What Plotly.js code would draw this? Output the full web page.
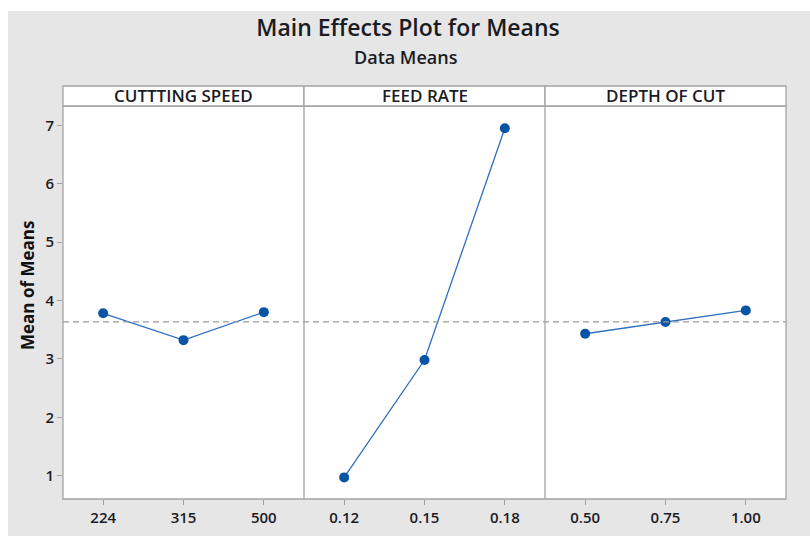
<!DOCTYPE html>
<html>
<head>
<meta charset="utf-8">
<script src="https://cdn.plot.ly/plotly-3.0.1.min.js"></script>
<style>html,body{margin:0;padding:0;background:#fff;}#chart{width:810px;height:536px;}</style>
</head>
<body>
<div id="chart"></div>
<script>
// ---- data ----
const factorNames = ['CUTTTING SPEED', 'FEED RATE', 'DEPTH OF CUT'];
const speedLevels = ['224', '315', '500'];
const speedMeans = [3.78, 3.32, 3.80];
const feedLevels = ['0.12', '0.15', '0.18'];
const feedMeans = [0.97, 2.98, 6.95];
const depthLevels = ['0.50', '0.75', '1.00'];
const depthMeans = [3.43, 3.63, 3.83];
const yTicks = [1, 2, 3, 4, 5, 6, 7];

// ---- geometry ----
const W = 810, H = 536;
const L = 63, R = 786, T = 106, B = 499;
const pw = R - L, ph = B - T;
const px = v => (v - L) / pw;
const py = v => (B - v) / ph;

const levels = [speedLevels, feedLevels, depthLevels];
const means = [speedMeans, feedMeans, depthMeans];
const allMeans = [].concat(speedMeans, feedMeans, depthMeans);
const grandMean = allMeans.reduce((a, b) => a + b, 0) / allMeans.length;

const font = '"Open Sans", "Noto Sans", sans-serif';
const grey = '#a3a3a3';
const dark = '#1b1b24';

const traces = levels.map((lv, i) => ({
  type: 'scatter', mode: 'lines+markers',
  x: lv, y: means[i],
  xaxis: i === 0 ? 'x' : 'x' + (i + 1), yaxis: 'y',
  line: {color: '#2f6fbf', width: 1.3},
  marker: {color: '#0a54a5', size: 10, symbol: 'circle'},
  hoverinfo: 'x+y', showlegend: false
}));

const xBase = {
  type: 'category', range: [-0.5, 2.5], showgrid: false, zeroline: false, showline: false,
  ticks: 'outside', ticklen: 5, tickcolor: grey, tickwidth: 1,
  tickfont: {family: font, size: 15, color: dark, weight: 600}, anchor: 'y', fixedrange: true
};

const shapes = [
  {type: 'rect', xref: 'paper', yref: 'paper', layer: 'below',
   x0: px(8), x1: px(812), y0: py(538), y1: py(11), fillcolor: '#e6e6e6', line: {width: 0}},
  {type: 'rect', xref: 'paper', yref: 'paper', layer: 'below',
   x0: 0, x1: 1, y0: 0, y1: 1, fillcolor: '#ffffff', line: {width: 0}},
  {type: 'line', xref: 'paper', yref: 'y', x0: 0, x1: 1, y0: grandMean, y1: grandMean,
   line: {color: '#9a9a9a', width: 1.3, dash: '6px,4px'}},
  {type: 'rect', xref: 'paper', yref: 'paper', x0: 0, x1: 1, y0: 0, y1: 1,
   line: {color: grey, width: 1.3}},
  {type: 'line', xref: 'paper', yref: 'paper', x0: 1/3, x1: 1/3, y0: 0, y1: 1, line: {color: grey, width: 1.3}},
  {type: 'line', xref: 'paper', yref: 'paper', x0: 2/3, x1: 2/3, y0: 0, y1: 1, line: {color: grey, width: 1.3}}
];
const annotations = [];
factorNames.forEach((name, i) => {
  shapes.push({type: 'rect', xref: 'paper', yref: 'paper', x0: i / 3, x1: (i + 1) / 3,
    y0: 1, y1: py(86), fillcolor: '#ffffff', line: {color: grey, width: 1.3}});
  annotations.push({xref: 'paper', yref: 'paper', x: (i + 0.5) / 3, y: py(95.5),
    text: name, showarrow: false, xanchor: 'center', yanchor: 'middle',
    font: {family: font, size: 17, color: dark, weight: 600}});
});
annotations.push({xref: 'paper', yref: 'paper', x: px(406), y: py(57), text: 'Data Means',
  showarrow: false, xanchor: 'center', yanchor: 'middle',
  font: {family: font, size: 18, color: dark, weight: 600}});
annotations.push({xref: 'paper', yref: 'paper', x: px(27), y: py(286), text: 'Mean of Means',
  textangle: -90, showarrow: false, xanchor: 'center', yanchor: 'middle',
  font: {family: font, size: 17, color: '#111', weight: 700}});

const layout = {
  width: W, height: H,
  margin: {l: L, r: W - R, t: T, b: H - B, pad: 0},
  paper_bgcolor: '#ffffff', plot_bgcolor: '#ffffff',
  title: {text: 'Main Effects Plot for Means', x: 408 / W, xanchor: 'center',
    xref: 'container', yref: 'container', y: 1 - 28 / H, yanchor: 'middle',
    font: {family: font, size: 23, color: dark, weight: 600}},
  xaxis: Object.assign({}, xBase, {domain: [0, 1/3]}),
  xaxis2: Object.assign({}, xBase, {domain: [1/3, 2/3]}),
  xaxis3: Object.assign({}, xBase, {domain: [2/3, 1]}),
  yaxis: {
    range: [0.6, 7.33], tickvals: yTicks, ticktext: yTicks.map(String),
    showgrid: false, zeroline: false, showline: false,
    ticks: 'outside', ticklen: 5, tickcolor: grey,
    tickfont: {family: font, size: 15, color: dark, weight: 600}, fixedrange: true
  },
  shapes: shapes, annotations: annotations
};

Plotly.newPlot('chart', traces, layout, {displayModeBar: false, staticPlot: true});
</script>
</body>
</html>
